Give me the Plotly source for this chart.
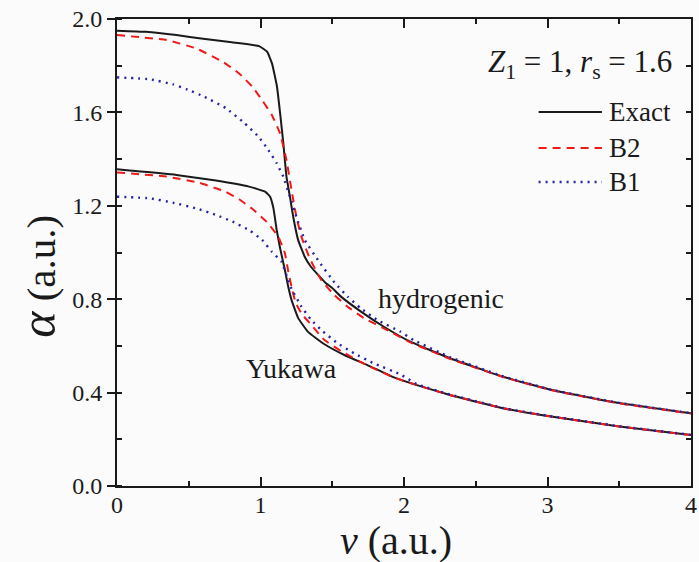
import plotly.graph_objects as go

# Projectile velocity grid points and stopping-parameter curves (a.u.)
# --- hydrogenic target ---
v_hyd_exact = [0.0, 0.2, 0.414, 0.6, 0.8, 0.99, 1.046, 1.08, 1.115, 1.136, 1.159, 1.181,
               1.205, 1.228, 1.262, 1.308, 1.35, 1.40, 1.45, 1.50, 1.561, 1.70, 1.86,
               2.044, 2.32, 2.69, 3.03, 3.5, 4.0]
a_hyd_exact = [1.950, 1.945, 1.931, 1.915, 1.900, 1.884, 1.860, 1.810, 1.710, 1.600, 1.468, 1.325,
               1.239, 1.153, 1.054, 0.982, 0.940, 0.905, 0.872, 0.848, 0.811, 0.747, 0.682,
               0.618, 0.547, 0.468, 0.411, 0.355, 0.311]

v_hyd_b2 = [0.0, 0.345, 0.552, 0.736, 0.851, 0.943, 1.011, 1.078, 1.136, 1.181, 1.216, 1.25,
            1.285, 1.343, 1.423, 1.515, 1.607, 1.722, 1.86, 2.044, 2.32, 2.69, 3.03, 3.5, 4.0]
a_hyd_b2 = [1.931, 1.910, 1.874, 1.817, 1.767, 1.710, 1.653, 1.590, 1.510, 1.396, 1.268, 1.153,
            1.068, 0.975, 0.882, 0.818, 0.768, 0.718, 0.675, 0.615, 0.545, 0.467, 0.410, 0.354, 0.310]

v_hyd_b1 = [0.0, 0.23, 0.391, 0.483, 0.609, 0.759, 0.885, 0.986, 1.055, 1.113, 1.159, 1.205,
            1.25, 1.308, 1.40, 1.515, 1.607, 1.699, 1.814, 1.975, 2.067, 2.32, 2.69, 3.03, 3.5, 4.0]
a_hyd_b1 = [1.750, 1.742, 1.720, 1.700, 1.667, 1.618, 1.556, 1.496, 1.439, 1.382, 1.325, 1.239,
            1.153, 1.054, 0.968, 0.872, 0.811, 0.761, 0.711, 0.661, 0.625, 0.552, 0.470, 0.412, 0.356, 0.312]

# --- Yukawa potential ---
v_yuk_exact = [0.0, 0.414, 0.69, 0.92, 1.034, 1.067, 1.09, 1.113, 1.136, 1.17, 1.193, 1.216,
               1.262, 1.331, 1.446, 1.584, 1.745, 1.93, 2.09, 2.32, 2.69, 3.0, 3.5, 4.0]
a_yuk_exact = [1.356, 1.332, 1.308, 1.282, 1.260, 1.239, 1.190, 1.096, 1.020, 0.925, 0.854, 0.797,
               0.720, 0.660, 0.607, 0.561, 0.518, 0.465, 0.432, 0.390, 0.333, 0.300, 0.255, 0.218]

v_yuk_b2 = [0.0, 0.345, 0.575, 0.759, 0.851, 0.943, 1.046, 1.124, 1.17, 1.193, 1.221, 1.245,
            1.285, 1.354, 1.446, 1.561, 1.745, 1.93, 2.09, 2.32, 2.69, 3.0, 3.5, 4.0]
a_yuk_b2 = [1.343, 1.325, 1.298, 1.260, 1.228, 1.187, 1.130, 1.068, 0.997, 0.920, 0.840, 0.785,
            0.739, 0.690, 0.625, 0.578, 0.516, 0.465, 0.432, 0.390, 0.333, 0.300, 0.255, 0.218]

v_yuk_b1 = [0.0, 0.23, 0.391, 0.552, 0.69, 0.805, 0.92, 1.011, 1.078, 1.147, 1.193, 1.216,
            1.285, 1.354, 1.423, 1.538, 1.653, 1.791, 1.975, 2.09, 2.32, 2.69, 3.0, 3.5, 4.0]
a_yuk_b1 = [1.239, 1.232, 1.213, 1.189, 1.161, 1.132, 1.096, 1.054, 1.004, 0.960, 0.880, 0.845,
            0.768, 0.711, 0.668, 0.611, 0.568, 0.525, 0.478, 0.436, 0.392, 0.334, 0.301, 0.256, 0.219]

series_names = ["Exact", "B2", "B1"]
x_ticks = [0, 1, 2, 3, 4]
y_ticks = [0.0, 0.4, 0.8, 1.2, 1.6, 2.0]

FONT = "Liberation Serif"
BLACK = "#1a1a1a"
RED = "#f01818"
BLUE = "#2424a4"
BG = "#fbfbfb"
styles = {
    "Exact": dict(color=BLACK, width=2.0, dash="solid"),
    "B2": dict(color=RED, width=2.0, dash="8px,6px"),
    "B1": dict(color=BLUE, width=2.4, dash="2px,5px"),
}

fig = go.Figure()
curves = [
    ("Exact", v_hyd_exact, a_hyd_exact), ("B2", v_hyd_b2, a_hyd_b2), ("B1", v_hyd_b1, a_hyd_b1),
    ("Exact", v_yuk_exact, a_yuk_exact), ("B2", v_yuk_b2, a_yuk_b2), ("B1", v_yuk_b1, a_yuk_b1),
]
for name, vx, ay in curves:
    fig.add_trace(go.Scatter(x=vx, y=ay, mode="lines", name=name, showlegend=False,
                             line=dict(shape="spline", smoothing=0.35, **styles[name])))

# right-hand frame axis with inward ticks
fig.add_trace(go.Scatter(x=[None], y=[None], yaxis="y2", showlegend=False, hoverinfo="skip"))

# plot-area geometry in pixels
W, H = 699, 562
L, R, T, B = 117, 2, 19, 76
pw, ph = W - L - R, H - T - B


def px(x):
    return (x - L) / pw


def py(y):
    return (H - B - y) / ph


tick_font = dict(family=FONT, size=24, color=BLACK)
axis_common = dict(showline=True, linecolor=BLACK, linewidth=2, showgrid=False, zeroline=False,
                   tickcolor=BLACK, tickwidth=1.5, tickfont=tick_font)

fig.update_layout(
    width=W, height=H,
    margin=dict(l=L, r=R, t=T, b=B),
    font=dict(family=FONT, size=24, color=BLACK),
    plot_bgcolor=BG, paper_bgcolor=BG,
    showlegend=False,
    xaxis=dict(range=[0, 4], tickvals=x_ticks, ticktext=[str(t) for t in x_ticks],
               ticks="inside", ticklen=9, mirror="ticks", ticklabeloverflow="allow",
               ticklabelstandoff=-4,
               minor=dict(dtick=0.5, ticks="inside", ticklen=5, tickcolor=BLACK, tickwidth=1.5),
               **axis_common),
    yaxis=dict(range=[0, 2.0], tickvals=y_ticks, ticktext=[f"{t:.1f}" for t in y_ticks],
               ticks="outside", ticklen=8, ticklabeloverflow="allow",
               minor=dict(dtick=0.2, ticks="inside", ticklen=5, tickcolor=BLACK, tickwidth=1.5),
               **axis_common),
    yaxis2=dict(range=[0, 2.0], overlaying="y", side="right", anchor="x",
                tickvals=y_ticks, ticks="inside", ticklen=5, showticklabels=False,
                minor=dict(dtick=0.2, ticks="inside", ticklen=5, tickcolor=BLACK, tickwidth=1.5),
                **axis_common),
)

annotations = [
    # axis titles
    dict(x=px(399), y=py(540), text="<i>v</i> (a.u.)", font=dict(size=40)),
    dict(x=px(37), y=py(276), text="<i><span style='font-size:50px'>α</span></i> (a.u.)",
         textangle=-90, font=dict(size=41)),
    # parameter label
    dict(x=px(680), y=py(64), xanchor="right",
         text="<i>Z</i><sub>1</sub> = 1, <i>r</i><sub>s</sub> = 1.6", font=dict(size=31)),
    # curve family labels
    dict(x=px(444), y=py(298), text="hydrogenic", font=dict(size=28)),
    dict(x=px(293), y=py(368), text="Yukawa", font=dict(size=28)),
]

# legend: line sample plus label for each series
legend_rows = [112, 148, 182]
for name, row in zip(series_names, legend_rows):
    st = styles[name]
    fig.add_shape(type="line", xref="paper", yref="paper",
                  x0=px(543), x1=px(607), y0=py(row), y1=py(row),
                  line=dict(color=st["color"], width=st["width"], dash=st["dash"]))
    annotations.append(dict(x=px(612), y=py(row), xanchor="left", text=name, font=dict(size=27)))

for a in annotations:
    a.setdefault("xref", "paper")
    a.setdefault("yref", "paper")
    a.setdefault("xanchor", "center")
    a["yanchor"] = "middle"
    a["showarrow"] = False
    a["font"] = dict(family=FONT, color=BLACK, **a["font"])
fig.update_layout(annotations=annotations)

fig.write_html("out.html")
